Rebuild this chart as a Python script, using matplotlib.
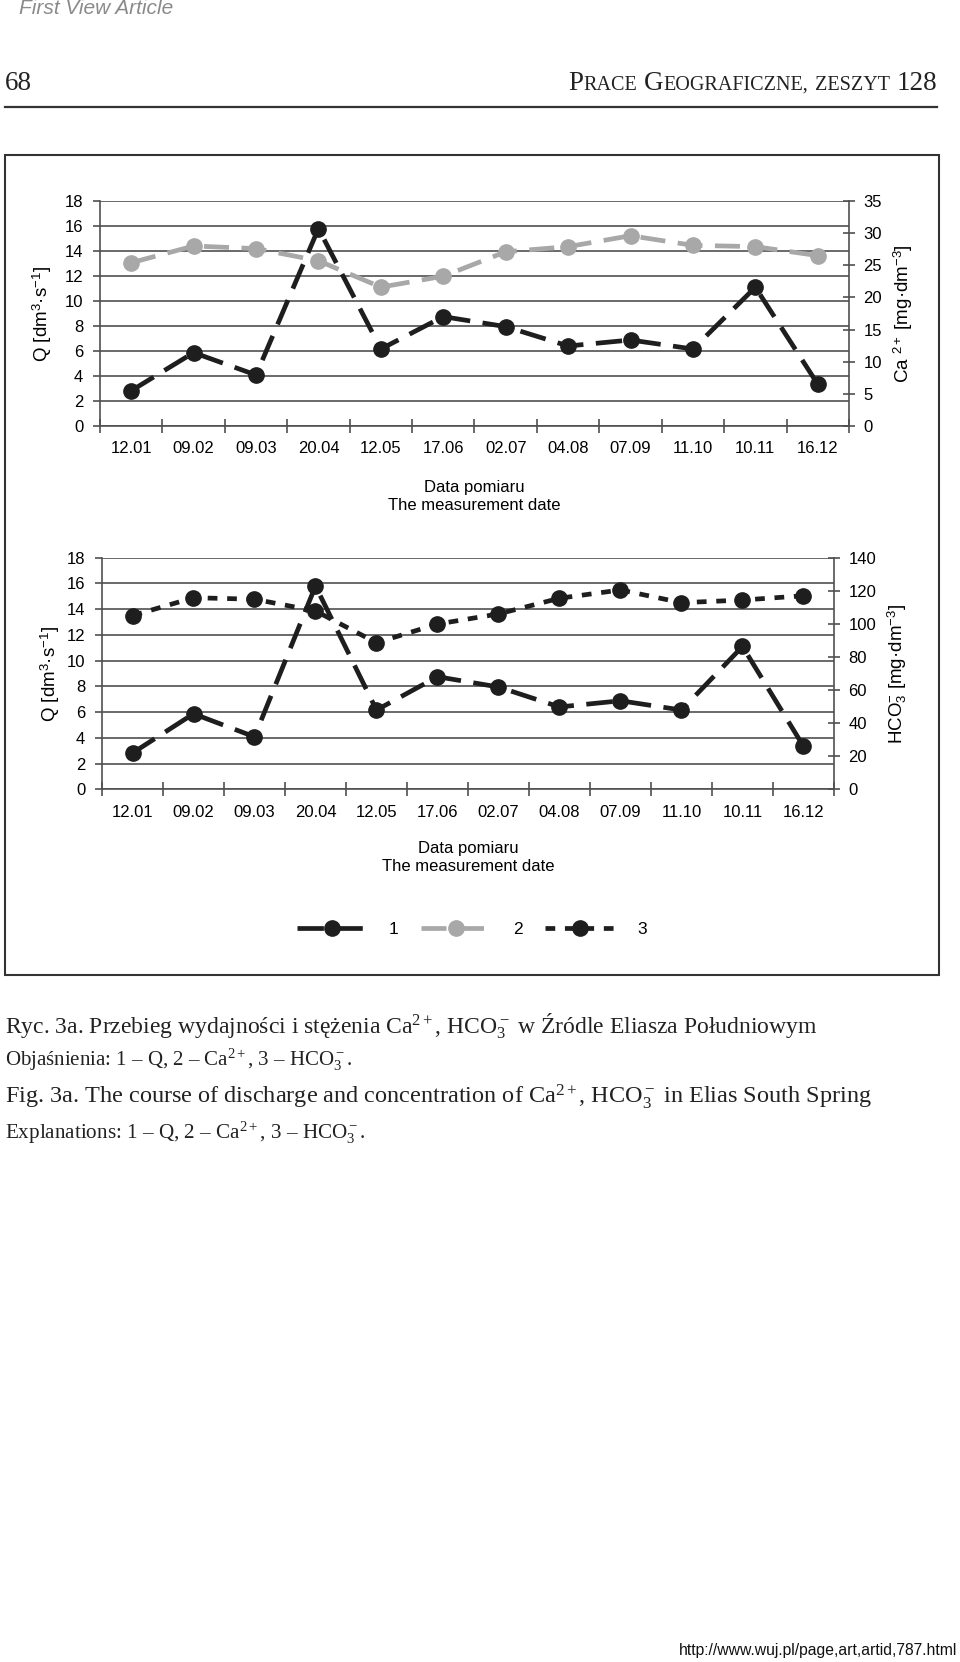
import matplotlib
matplotlib.use('Agg')
import matplotlib.pyplot as plt
from matplotlib.patches import Rectangle
from matplotlib.lines import Line2D

# ---------------- data ----------------
dates = ['12.01', '09.02', '09.03', '20.04', '12.05', '17.06',
         '02.07', '04.08', '07.09', '11.10', '10.11', '16.12']
discharge_q = [2.82, 5.87, 4.08, 15.8, 6.16, 8.75, 7.95, 6.4, 6.88, 6.16, 11.1, 3.34]
calcium = [25.4, 28.0, 27.6, 25.7, 21.6, 23.3, 27.1, 27.9, 29.6, 28.1, 27.9, 26.5]
bicarbonate = [105.0, 115.8, 114.9, 107.8, 88.6, 99.9, 106.0, 115.5, 120.5, 112.8, 114.4, 117.0]
q_ticks = [0, 2, 4, 6, 8, 10, 12, 14, 16, 18]
ca_ticks = [0, 5, 10, 15, 20, 25, 30, 35]
hco3_ticks = [0, 20, 40, 60, 80, 100, 120, 140]
legend_labels = ['1', '2', '3']

plt.rcParams.update({
    'font.family': ['Liberation Sans', 'DejaVu Sans'],
    'mathtext.fontset': 'custom',
    'mathtext.rm': 'Liberation Serif',
    'mathtext.it': 'Liberation Serif:italic',
    'mathtext.bf': 'Liberation Serif:bold',
    'mathtext.sf': 'Liberation Sans',
    'lines.scale_dashes': False,
})

W, H = 960, 1662
fig = plt.figure(figsize=(W / 100, H / 100), dpi=100)


def fx(px):
    return px / W


def fy(py):
    return 1 - py / H


BLACK = '#1e1e1e'
GRAY = '#a8a8a8'
AXC = '#505050'
TICK_FS = 12

Q_LABEL = r'Q [dm$^{\mathsf{3}}$·s$^{\mathsf{-1}}$]'


def panel(left, top, right, bottom, sec_vals, sec_ticks, sec_color, sec_dash,
          sec_label, ylab_x, sec_lab_x, xlab_y):
    ax = fig.add_axes([fx(left), fy(bottom), (right - left) / W, (bottom - top) / H])
    n = len(dates)
    x = list(range(n))
    ax.set_xlim(-0.5, n - 0.5)
    ax.set_ylim(q_ticks[0], q_ticks[-1])
    ax.set_yticks(q_ticks)
    ax.set_xticks([i - 0.5 for i in range(n + 1)])
    ax.set_xticklabels([])
    ax.set_xticks(x, minor=True)
    ax.set_xticklabels(dates, minor=True)
    ax.tick_params(axis='x', which='major', direction='inout', length=10, width=1.2, color=AXC)
    ax.tick_params(axis='x', which='minor', length=0, pad=11, labelsize=TICK_FS)
    ax.tick_params(axis='y', direction='out', length=5, width=1.2, color=AXC, pad=7,
                   labelsize=TICK_FS)
    ax.grid(axis='y', color=AXC, lw=1.2)
    ax.set_axisbelow(True)
    ax.spines['top'].set_visible(False)
    ax.spines['right'].set_visible(False)
    for s in ['left', 'bottom']:
        ax.spines[s].set_color(AXC)
        ax.spines[s].set_linewidth(1.2)

    l1, = ax.plot(x, discharge_q, color=BLACK, lw=3.4, ls=(0, (19, 9)),
                  marker='o', ms=11, mfc=BLACK, mec=BLACK, zorder=3)

    ax.set_ylabel(Q_LABEL, fontsize=13.5, rotation=90, ha='center', va='center')
    ax.yaxis.set_label_coords(ylab_x, 0.5)
    ax.set_xlabel('Data pomiaru\nThe measurement date', fontsize=12,
                  linespacing=1.25, ha='center', va='center')
    ax.xaxis.set_label_coords(0.5, xlab_y)

    ax2 = ax.twinx()
    ax2.set_ylim(sec_ticks[0], sec_ticks[-1])
    ax2.set_yticks(sec_ticks)
    ax2.tick_params(axis='y', direction='inout', length=9, width=1.2, color=AXC, pad=6,
                    labelsize=TICK_FS)
    for s in ['top', 'left', 'bottom']:
        ax2.spines[s].set_visible(False)
    ax2.spines['right'].set_color(AXC)
    ax2.spines['right'].set_linewidth(1.2)
    l2, = ax2.plot(x, sec_vals, color=sec_color, lw=3.4, ls=(0, sec_dash),
                   marker='o', ms=11, mfc=sec_color, mec=sec_color, zorder=3)
    ax2.set_ylabel(sec_label, fontsize=13.5, rotation=90, ha='center', va='center')
    ax2.yaxis.set_label_coords(sec_lab_x, 0.5)
    return ax, ax2, l1, l2


ax_a, ax_a2, h1, h2 = panel(100, 201, 849, 426, calcium, ca_ticks, GRAY, (18, 9),
                            r'Ca $^{\mathsf{2+}}$ [mg·dm$^{\mathsf{-3}}$]',
                            -0.077, 1.072, -0.313)
ax_b, ax_b2, _, h3 = panel(102, 557.7, 834, 789.3, bicarbonate, hco3_ticks, BLACK, (7, 7),
                           r'HCO$_{\mathsf{3}}^{\mathsf{-}}$ [mg·dm$^{\mathsf{-3}}$]',
                           -0.071, 1.086, -0.296)

fig.legend([h1, h2, h3], legend_labels, loc='center',
           bbox_to_anchor=(fx(472), fy(929)), ncol=3, frameon=False,
           fontsize=12.5, handlelength=4.0, handletextpad=1.3, columnspacing=1.3,
           numpoints=1)

# chart frame
fig.add_artist(Rectangle((fx(5.3), fy(974.8)), (938.8 - 5.3) / W, (974.8 - 154.7) / H,
                         transform=fig.transFigure, fill=False, ec='#333333', lw=1.5))

# ---------------- page furniture ----------------
fig.text(fx(19), fy(9), 'First View Article', fontsize=15, style='italic',
         color='#8a8a8a', ha='left', va='center')
fig.text(fx(5), fy(83), '68', fontsize=19.5, family='Liberation Serif',
         ha='left', va='center', color='#222222')
fig.add_artist(Line2D([fx(5), fx(937)], [fy(107), fy(107)], color='#333333', lw=1.6))

# small caps running head
renderer = fig.canvas.get_renderer()
big, small = 19.5, 14.5
pieces = [('P', big), ('RACE', small), (None, big), ('G', big), ('EOGRAFICZNE,', small),
          (None, big), ('ZESZYT', small), (None, big), ('128', big)]
objs = []
total = 0.0
for s, size in pieces:
    if s is None:
        w = size * 100 / 72 * 0.25
        objs.append((None, w))
    else:
        t = fig.text(0, fy(90), s, fontsize=size, family='Liberation Serif',
                     ha='left', va='baseline', color='#222222')
        w = t.get_window_extent(renderer).width
        objs.append((t, w))
    total += w
xpos = 937 - total
for t, w in objs:
    if t is not None:
        t.set_x(fx(xpos))
    xpos += w

# captions
cap_kw = dict(family='Liberation Serif', ha='left', va='center', color='#222222')
fig.text(fx(5), fy(1026),
         r'Ryc. 3a. Przebieg wydajności i stężenia Ca$^{2+}$, HCO$_3^-$ w Źródle Eliasza Południowym',
         fontsize=17, **cap_kw)
fig.text(fx(5), fy(1060), r'Objaśnienia: 1 – Q, 2 – Ca$^{2+}$, 3 – HCO$_3^-$.',
         fontsize=15, **cap_kw)
fig.text(fx(5), fy(1097),
         r'Fig. 3a. The course of discharge and concentration of Ca$^{2+}$, HCO$_3^-$ in Elias South Spring',
         fontsize=17.5, **cap_kw)
fig.text(fx(5), fy(1133), r'Explanations: 1 – Q, 2 – Ca$^{2+}$, 3 – HCO$_3^-$.',
         fontsize=15.2, **cap_kw)

fig.text(fx(957), fy(1651), 'http://www.wuj.pl/page,art,artid,787.html', fontsize=11.3,
         ha='right', va='center', color='#111111')

fig.savefig('out.png', dpi=100, facecolor='white')
